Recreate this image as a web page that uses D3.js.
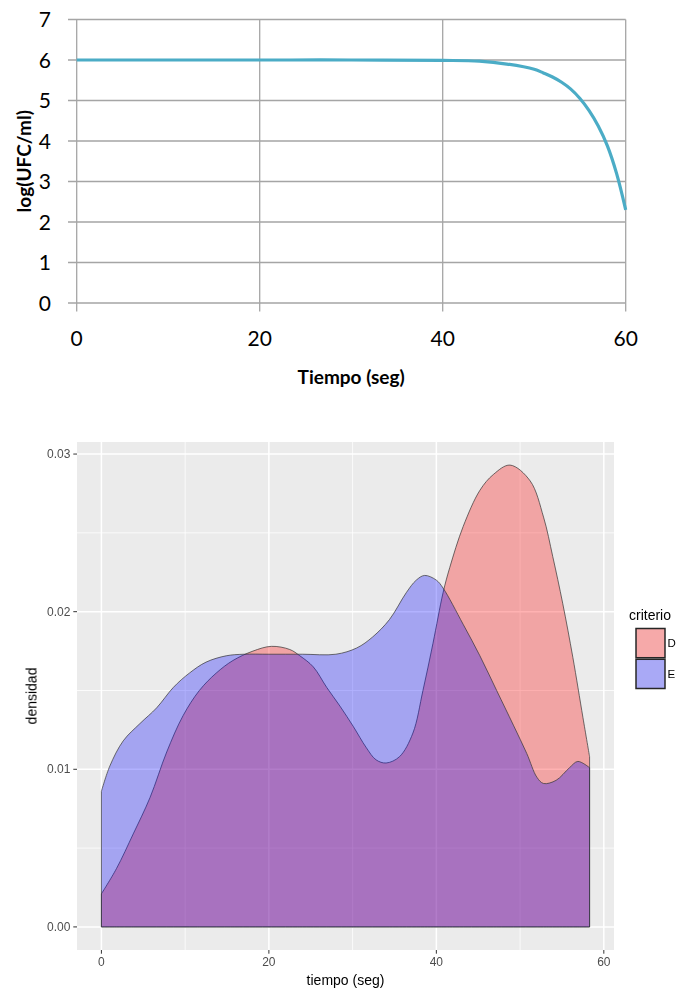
<!DOCTYPE html>
<html>
<head>
<meta charset="utf-8">
<script src="https://cdn.jsdelivr.net/npm/d3@7"></script>
<style>
  html, body { margin: 0; padding: 0; background: #ffffff; }
  svg { display: block; }
</style>
</head>
<body>
<svg id="chart" width="676" height="989"></svg>
<script>
// ---- Survival curve: log(UFC/ml) against time ----
const survTime = [0, 10, 20, 30, 40, 44, 47, 50, 51, 52, 53, 54, 55, 56, 57, 58, 59, 60];
const survLog  = [6, 6, 6, 6, 5.99, 5.97, 5.90, 5.77, 5.68, 5.58, 5.45, 5.28, 5.05, 4.75, 4.37, 3.88, 3.20, 2.30];
const survXTicks = [0, 20, 40, 60];
const survYTicks = [0, 1, 2, 3, 4, 5, 6, 7];

// ---- Density of time by criterion ----
const criteria = ["D", "E"];
const densTimeD = [0, 1.8, 3.8, 5.8, 7.8, 9.75, 11.7, 13.7, 15.7, 18.1, 20.3, 22.5, 23.7, 25.3, 26.9, 28.5,
                   30.1, 31.6, 32.8, 34.0, 35.6, 37.2, 38.4, 39.6, 40.8, 41.6, 43.2, 45.2, 46.8, 48.8,
                   51.2, 52.8, 53.9, 55.1, 56.3, 57.5, 58.3];
const densD     = [0.0021, 0.0037, 0.0059, 0.0082, 0.0111, 0.0134, 0.0150, 0.0161, 0.0169, 0.0175, 0.0178,
                   0.0176, 0.0172, 0.0165, 0.0152, 0.0140, 0.0127, 0.0114, 0.0106, 0.0104, 0.0108, 0.0123,
                   0.0150, 0.0180, 0.0212, 0.0228, 0.0254, 0.0277, 0.0287, 0.0293, 0.0283, 0.0260, 0.0235,
                   0.0205, 0.0171, 0.0133, 0.0108];
const densTimeE = [0, 1.0, 2.6, 4.6, 6.6, 8.6, 10.5, 12.5, 14.9, 17, 20, 24, 28, 30.5, 32.4, 34.4, 36.4,
                   37.6, 38.6, 40, 40.8, 43.2, 45.2, 47.2, 49.2, 50.8, 52.0, 52.8, 54.3, 55.9, 56.9, 58.3];
const densE     = [0.0086, 0.0102, 0.0118, 0.0129, 0.0139, 0.0152, 0.0161, 0.0168, 0.0172, 0.0173, 0.0173,
                   0.0173, 0.0173, 0.0177, 0.0184, 0.0195, 0.0212, 0.0220, 0.0223, 0.0220, 0.0215, 0.0192,
                   0.0172, 0.0150, 0.0128, 0.0110, 0.0095, 0.0091, 0.0093, 0.0101, 0.0105, 0.0101];
const densXTicks = [0, 20, 40, 60];
const densXMinor = [10, 30, 50];
const densYTicks = [0, 0.01, 0.02, 0.03];
const densYMinor = [0.005, 0.015, 0.025];

const svg = d3.select("#chart");
const smooth = d3.curveCatmullRom.alpha(0.5);

// =============== Top chart ===============
(function drawSurvival() {
  const g = svg.append("g");
  const x = d3.scaleLinear().domain([0, 60]).range([76.7, 625.7]);
  const y = d3.scaleLinear().domain([0, 7]).range([303, 19.5]);
  const grid = "#a5a5a5";
  const fontTick = "Lato, 'Open Sans', sans-serif";

  // horizontal gridlines (with outward tick on the left)
  g.append("g").selectAll("line").data(survYTicks).join("line")
    .attr("x1", 68).attr("x2", x(60))
    .attr("y1", d => y(d)).attr("y2", d => y(d))
    .attr("stroke", grid).attr("stroke-width", 1.3);

  // vertical gridlines (with outward tick below)
  g.append("g").selectAll("line").data(survXTicks).join("line")
    .attr("x1", d => x(d)).attr("x2", d => x(d))
    .attr("y1", y(7)).attr("y2", 311.5)
    .attr("stroke", grid).attr("stroke-width", 1.3);

  // tick labels
  g.append("g").selectAll("text").data(survYTicks).join("text")
    .attr("x", 51).attr("y", d => y(d)).attr("dy", "0.36em")
    .attr("text-anchor", "end")
    .attr("font-family", fontTick).attr("font-size", 21).attr("fill", "#000")
    .text(d => d);

  g.append("g").selectAll("text").data(survXTicks).join("text")
    .attr("x", d => x(d)).attr("y", 346)
    .attr("text-anchor", "middle")
    .attr("font-family", fontTick).attr("font-size", 21).attr("fill", "#000")
    .text(d => d);

  // axis titles
  g.append("text")
    .attr("transform", "translate(31," + ((y(0) + y(7)) / 2) + ") rotate(-90)")
    .attr("text-anchor", "middle")
    .attr("font-family", fontTick).attr("font-weight", 700).attr("font-size", 19)
    .text("log(UFC/ml)");

  g.append("text")
    .attr("x", (x(0) + x(60)) / 2).attr("y", 384)
    .attr("text-anchor", "middle")
    .attr("font-family", fontTick).attr("font-weight", 700).attr("font-size", 19)
    .text("Tiempo (seg)");

  // survival line
  const pts = survTime.map((t, i) => [t, survLog[i]]);
  const line = d3.line().x(d => x(d[0])).y(d => y(d[1])).curve(smooth);
  g.append("path").datum(pts)
    .attr("d", line)
    .attr("fill", "none")
    .attr("stroke", "#4bacc6")
    .attr("stroke-width", 3.2)
    .attr("stroke-linecap", "butt");
})();

// =============== Bottom chart ===============
(function drawDensity() {
  const defs = svg.append("defs");
  defs.append("filter").attr("id", "soft")
    .append("feGaussianBlur").attr("stdDeviation", 0.45);

  const g = svg.append("g").attr("filter", "url(#soft)");
  const panel = { left: 77, right: 614, top: 442, bottom: 950 };

  const tMax = d3.max(densTimeD.concat(densTimeE));
  const dMax = d3.max(densD.concat(densE));
  const xPad = tMax * 0.05, yPad = dMax * 0.05;

  const x = d3.scaleLinear().domain([-xPad, tMax + xPad]).range([panel.left, panel.right]);
  const y = d3.scaleLinear().domain([-yPad, dMax + yPad]).range([panel.bottom, panel.top]);
  const font = "'Liberation Sans', Arial, sans-serif";

  g.append("rect")
    .attr("x", panel.left).attr("y", panel.top)
    .attr("width", panel.right - panel.left).attr("height", panel.bottom - panel.top)
    .attr("fill", "#ebebeb");

  // minor gridlines
  g.append("g").selectAll("line").data(densXMinor).join("line")
    .attr("x1", d => x(d)).attr("x2", d => x(d))
    .attr("y1", panel.top).attr("y2", panel.bottom)
    .attr("stroke", "#fff").attr("stroke-width", 0.8);
  g.append("g").selectAll("line").data(densYMinor).join("line")
    .attr("x1", panel.left).attr("x2", panel.right)
    .attr("y1", d => y(d)).attr("y2", d => y(d))
    .attr("stroke", "#fff").attr("stroke-width", 0.8);

  // major gridlines
  g.append("g").selectAll("line").data(densXTicks).join("line")
    .attr("x1", d => x(d)).attr("x2", d => x(d))
    .attr("y1", panel.top).attr("y2", panel.bottom)
    .attr("stroke", "#fff").attr("stroke-width", 1.5);
  g.append("g").selectAll("line").data(densYTicks).join("line")
    .attr("x1", panel.left).attr("x2", panel.right)
    .attr("y1", d => y(d)).attr("y2", d => y(d))
    .attr("stroke", "#fff").attr("stroke-width", 1.5);

  // density areas
  const area = d3.area()
    .x(d => x(d[0])).y0(y(0)).y1(d => y(d[1]))
    .curve(smooth);

  const series = [
    { key: "D", pts: densTimeD.map((t, i) => [t, densD[i]]), fill: "#ff0000" },
    { key: "E", pts: densTimeE.map((t, i) => [t, densE[i]]), fill: "#0000ff" }
  ];

  series.forEach(s => {
    g.append("path").datum(s.pts)
      .attr("d", d => area(d) + "Z")
      .attr("fill", s.fill).attr("fill-opacity", 0.3)
      .attr("stroke", "#333").attr("stroke-width", 0.7)
      .attr("stroke-linejoin", "round");
  });

  // axis ticks
  g.append("g").selectAll("line").data(densYTicks).join("line")
    .attr("x1", panel.left - 3.7).attr("x2", panel.left)
    .attr("y1", d => y(d)).attr("y2", d => y(d))
    .attr("stroke", "#333").attr("stroke-width", 1);
  g.append("g").selectAll("line").data(densXTicks).join("line")
    .attr("x1", d => x(d)).attr("x2", d => x(d))
    .attr("y1", panel.bottom).attr("y2", panel.bottom + 3.7)
    .attr("stroke", "#333").attr("stroke-width", 1);

  // tick labels
  g.append("g").selectAll("text").data(densYTicks).join("text")
    .attr("x", panel.left - 6.6).attr("y", d => y(d)).attr("dy", "0.35em")
    .attr("text-anchor", "end")
    .attr("font-family", font).attr("font-size", 12).attr("fill", "#4d4d4d")
    .text(d3.format(".2f"));
  g.append("g").selectAll("text").data(densXTicks).join("text")
    .attr("x", d => x(d)).attr("y", 966)
    .attr("text-anchor", "middle")
    .attr("font-family", font).attr("font-size", 12).attr("fill", "#4d4d4d")
    .text(d => d);

  // axis titles
  g.append("text")
    .attr("transform", "translate(36.5," + ((panel.top + panel.bottom) / 2) + ") rotate(-90)")
    .attr("text-anchor", "middle")
    .attr("font-family", font).attr("font-size", 14).attr("fill", "#000")
    .text("densidad");
  g.append("text")
    .attr("x", (panel.left + panel.right) / 2).attr("y", 985)
    .attr("text-anchor", "middle")
    .attr("font-family", font).attr("font-size", 14).attr("fill", "#000")
    .text("tiempo (seg)");

  // legend
  const lg = g.append("g");
  lg.append("text")
    .attr("x", 629).attr("y", 620)
    .attr("font-family", font).attr("font-size", 14).attr("fill", "#000")
    .text("criterio");

  const keyY = d3.scaleBand().domain(criteria).range([628.5, 688.5]).paddingInner(0.05);
  const keyFill = { D: "#ff0000", E: "#0000ff" };
  const key = lg.selectAll("g.key").data(criteria).join("g").attr("class", "key");
  key.append("rect")
    .attr("x", 636).attr("y", d => keyY(d))
    .attr("width", 29).attr("height", keyY.bandwidth())
    .attr("fill", "#f2f2f2");
  key.append("rect")
    .attr("x", 636).attr("y", d => keyY(d))
    .attr("width", 29).attr("height", keyY.bandwidth())
    .attr("fill", d => keyFill[d]).attr("fill-opacity", 0.3)
    .attr("stroke", "#262626").attr("stroke-width", 1.5);
  key.append("text")
    .attr("x", 667.5).attr("y", d => keyY(d) + keyY.bandwidth() / 2).attr("dy", "0.35em")
    .attr("font-family", font).attr("font-size", 11.5).attr("fill", "#000")
    .text(d => d);
})();
</script>
</body>
</html>
